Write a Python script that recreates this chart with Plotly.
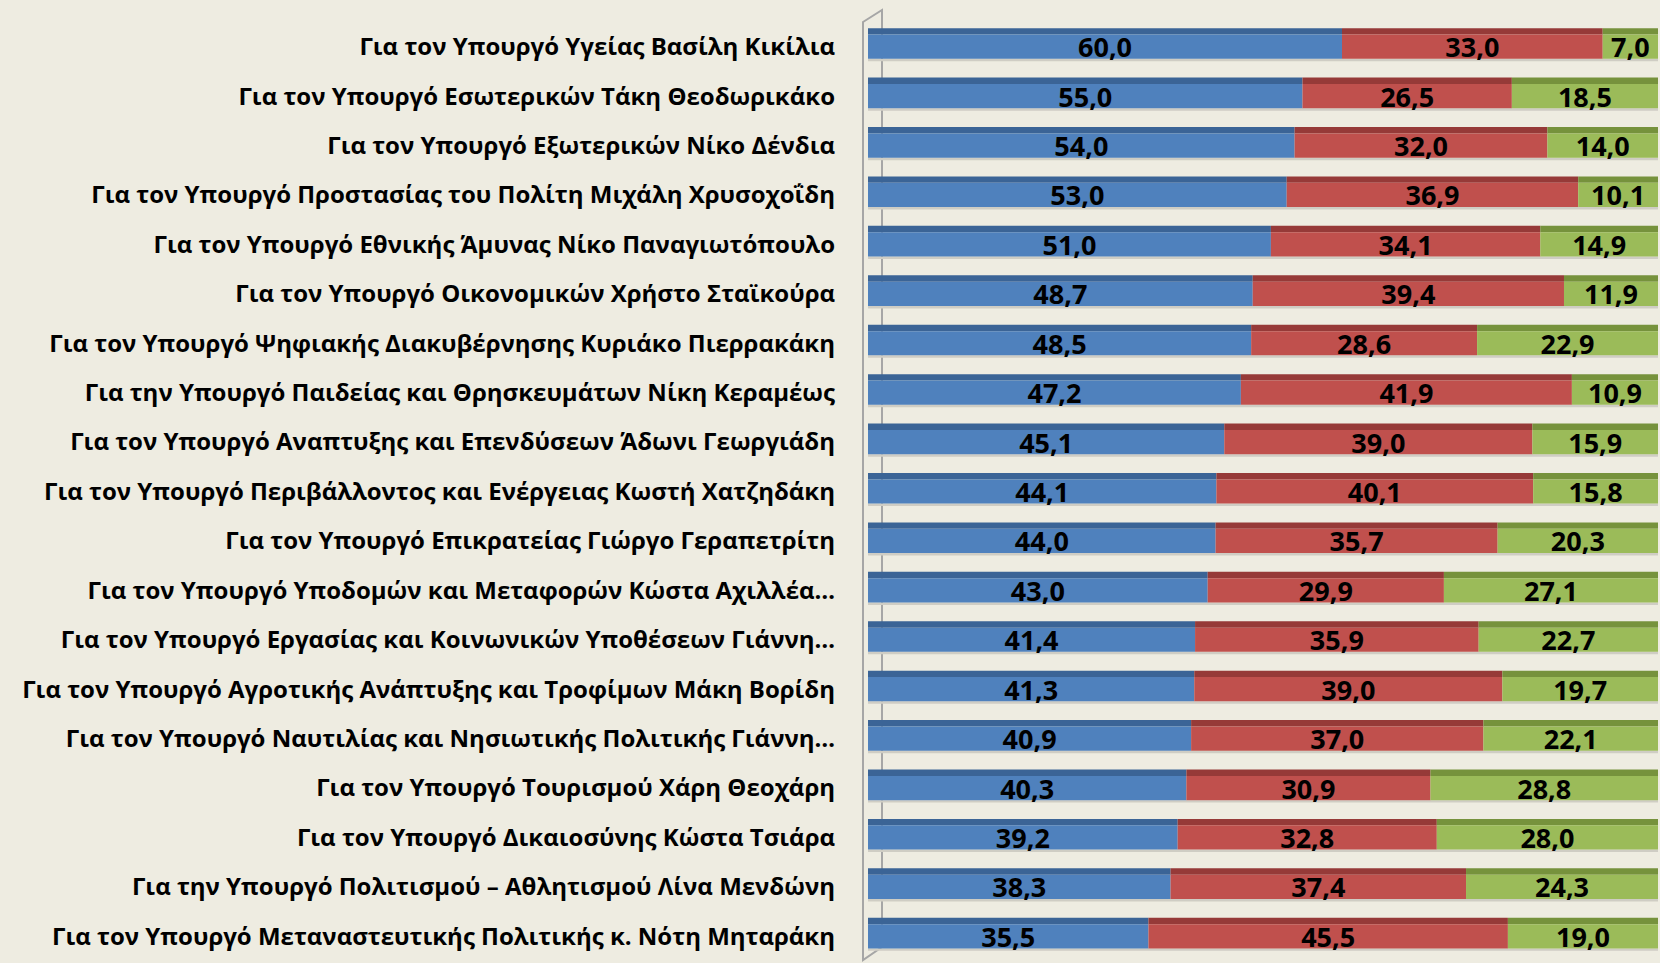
import plotly.graph_objects as go

categories = [
    "Για τον Υπουργό Υγείας Βασίλη Κικίλια",
    "Για τον Υπουργό Εσωτερικών Τάκη Θεοδωρικάκο",
    "Για τον Υπουργό Εξωτερικών Νίκο Δένδια",
    "Για τον Υπουργό Προστασίας του Πολίτη Μιχάλη Χρυσοχοΐδη",
    "Για τον Υπουργό Εθνικής Άμυνας Νίκο Παναγιωτόπουλο",
    "Για τον Υπουργό Οικονομικών Χρήστο Σταϊκούρα",
    "Για τον Υπουργό Ψηφιακής Διακυβέρνησης Κυριάκο Πιερρακάκη",
    "Για την Υπουργό Παιδείας και Θρησκευμάτων Νίκη Κεραμέως",
    "Για τον Υπουργό Αναπτυξης και Επενδύσεων Άδωνι Γεωργιάδη",
    "Για τον Υπουργό Περιβάλλοντος και Ενέργειας Κωστή Χατζηδάκη",
    "Για τον Υπουργό Επικρατείας Γιώργο Γεραπετρίτη",
    "Για τον Υπουργό Υποδομών και Μεταφορών Κώστα Αχιλλέα…",
    "Για τον Υπουργό Εργασίας και Κοινωνικών Υποθέσεων Γιάννη…",
    "Για τον Υπουργό Αγροτικής Ανάπτυξης και Τροφίμων Μάκη Βορίδη",
    "Για τον Υπουργό Ναυτιλίας και Νησιωτικής Πολιτικής Γιάννη…",
    "Για τον Υπουργό Τουρισμού Χάρη Θεοχάρη",
    "Για τον Υπουργό Δικαιοσύνης Κώστα Τσιάρα",
    "Για την Υπουργό Πολιτισμού – Αθλητισμού Λίνα Μενδώνη",
    "Για τον Υπουργό Μεταναστευτικής Πολιτικής κ. Νότη Μηταράκη",
]
blue_values = [60.0, 55.0, 54.0, 53.0, 51.0, 48.7, 48.5, 47.2, 45.1, 44.1,
               44.0, 43.0, 41.4, 41.3, 40.9, 40.3, 39.2, 38.3, 35.5]
red_values = [33.0, 26.5, 32.0, 36.9, 34.1, 39.4, 28.6, 41.9, 39.0, 40.1,
              35.7, 29.9, 35.9, 39.0, 37.0, 30.9, 32.8, 37.4, 45.5]
green_values = [7.0, 18.5, 14.0, 10.1, 14.9, 11.9, 22.9, 10.9, 15.9, 15.8,
                20.3, 27.1, 22.7, 19.7, 22.1, 28.8, 28.0, 24.3, 19.0]

series = [
    (blue_values, "#4F81BD", "#3B6496"),
    (red_values, "#C0504D", "#963A38"),
    (green_values, "#9BBB59", "#76923C"),
]

W, H = 1660, 963
L, R, T, B = 868, 2, 22, 2
PW, PH = W - L - R, H - T - B

BG = "#EEECE1"
FONT = "Open Sans"

fig = go.Figure()

totals = [b + r + g for b, r, g in zip(blue_values, red_values, green_values)]
# light floor line under each bar
fig.add_trace(go.Bar(
    y=categories, x=totals, base=[0] * len(totals), orientation="h",
    width=0.05, offset=0.245, marker=dict(color="#CFCDC4", line_width=0),
    hoverinfo="skip", showlegend=False,
))

base = [0.0] * len(categories)
for vals, col, dark in series:
    # top face (3D effect)
    fig.add_trace(go.Bar(
        y=categories, x=vals, base=base, orientation="h",
        width=0.13, offset=-0.375, marker=dict(color=dark, line_width=0),
        hoverinfo="skip", showlegend=False,
    ))
    fig.add_trace(go.Bar(
        y=categories, x=vals, base=base, orientation="h",
        width=0.49, offset=-0.245, marker=dict(color=col, line_width=0),
        text=[f"{v:.1f}".replace(".", ",") for v in vals],
        textposition="inside", insidetextanchor="middle",
        constraintext="none",
        textfont=dict(family=FONT, size=27, color="black", weight=700),
        showlegend=False,
    ))
    base = [b + v for b, v in zip(base, vals)]


def px_x(px):
    return (px - L) / PW


def px_y(py):
    return (H - B - py) / PH


wall_pts = [(863, 22), (882, 10), (882, 947), (863, 960)]
path = "M " + " L ".join(f"{px_x(x):.5f},{px_y(y):.5f}" for x, y in wall_pts) + " Z"
fig.add_shape(type="path", path=path, xref="paper", yref="paper",
              line=dict(color="#A6A6A6", width=2), fillcolor=BG, layer="below")

fig.update_layout(
    width=W, height=H,
    barmode="overlay",
    paper_bgcolor=BG, plot_bgcolor="rgba(0,0,0,0)",
    margin=dict(l=L, r=R, t=T, b=B),
    xaxis=dict(range=[0, 100], visible=False, fixedrange=True),
    yaxis=dict(autorange="reversed", showgrid=False, zeroline=False,
               showline=False, ticks="", ticklabelstandoff=32,
               tickfont=dict(family=FONT, size=24, color="black", weight=700)),
    font=dict(family=FONT),
)

fig.write_html(
    "out.html",
    config={"displayModeBar": False},
    post_script="document.body.style.margin='0';document.body.style.background='#EEECE1';",
)
